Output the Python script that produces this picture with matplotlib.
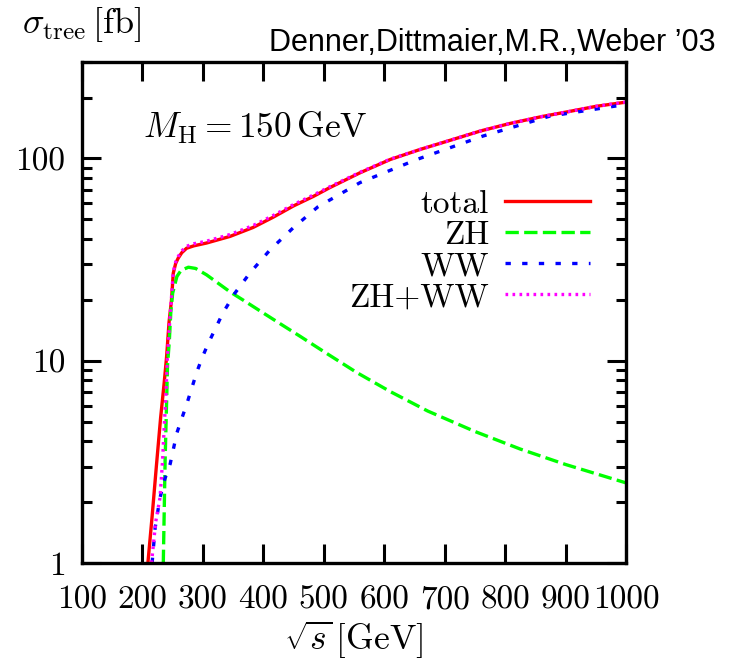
import matplotlib
matplotlib.use("Agg")
import matplotlib.pyplot as plt
from matplotlib.ticker import FixedLocator, FixedFormatter, NullFormatter, LogLocator

plt.rcParams['mathtext.fontset'] = 'cm'

# ---- data ----
total_x = [209, 216, 223, 230, 236, 240, 244, 248, 251, 255, 259, 265, 273, 285, 306, 345,
           383, 416, 450, 483, 510, 560, 610, 660, 709, 760, 808, 860, 907, 950, 1000]
total_y = [1.0, 1.7, 3.0, 5.2, 7.8, 10.5, 15.5, 19.9, 27.1, 30.3, 32.1, 34.2, 36.0, 37.0,
           38.2, 41.2, 45.6, 51.2, 58.3, 65.0, 71.8, 85, 98.9, 111, 123, 137, 149, 161,
           171, 181, 190]

zh_x = [234.5, 237.5, 241.5, 244.5, 247, 250, 257, 264, 276, 288, 306, 325, 345, 366, 395,
        430, 461, 500, 555, 610, 672, 750, 825, 900, 1000]
zh_y = [1.0, 3.2, 9.5, 12.6, 17.5, 21.6, 26.1, 28.0, 29.0, 28.6, 26.6, 24.2, 21.9, 20.0,
        17.6, 15.1, 13.2, 11.1, 8.73, 7.04, 5.64, 4.47, 3.66, 3.07, 2.49]

ww_x = [216, 221, 229, 237, 246, 257, 274, 290, 299, 309, 333, 353, 378, 411, 449, 490,
        560, 654, 763, 874, 1000]
ww_y = [1.0, 1.49, 2.1, 2.6, 3.1, 4.4, 6.2, 8.8, 10.4, 12.2, 17.2, 21.6, 27.2, 35.3, 45.3,
        57.6, 76, 98.9, 129, 162, 185]

sum_x = [215, 222, 229, 233, 236, 239, 241, 244, 248, 251, 255, 259, 265, 273, 285, 306,
         345, 383, 416, 450, 483, 510, 560, 610, 660, 709, 760, 808, 860, 907, 950, 1000]
sum_y = [1.0, 1.6, 2.1, 3.1, 4.7, 6.9, 10, 14, 20.5, 27.5, 30.8, 32.7, 34.9, 36.8, 37.9,
         39.0, 42.1, 46.6, 52.2, 59.2, 66.0, 72.5, 85.5, 99.3, 111, 123, 137, 149, 161,
         171, 181, 190]

series_labels = ['total', 'ZH', 'WW', 'ZH+WW']
series_colors = ['#ff0000', '#00ff00', '#0000ff', '#ff00ff']

x_ticks = [100, 200, 300, 400, 500, 600, 700, 800, 900, 1000]
x_ticklabels = ['100', '200', '300', '400', '500', '600', '700', '800', '900', '1000']
y_ticks = [1, 10, 100]
y_ticklabels = ['1', '10', '100']

# ---- figure ----
W, H = 732, 662
fig = plt.figure(figsize=(W / 100, H / 100), dpi=100)
ax = fig.add_axes([82 / W, (H - 563) / H, (626 - 82) / W, (563 - 62) / H])

lw = 2.4
ax.plot(total_x, total_y, color=series_colors[0], lw=lw, label=series_labels[0])
ax.plot(zh_x, zh_y, color=series_colors[1], lw=lw, ls=(0, (4.0, 1.6)), label=series_labels[1])
ax.plot(ww_x, ww_y, color=series_colors[2], lw=lw, ls=(0, (1.6, 3.4)), label=series_labels[2])
ax.plot(sum_x, sum_y, color=series_colors[3], lw=lw, ls=(0, (0.8, 1.3)), label=series_labels[3])

ax.set_xscale('linear')
ax.set_yscale('log')
ax.set_xlim(100, 1000)
ax.set_ylim(1, 300)

ax.xaxis.set_major_locator(FixedLocator(x_ticks))
ax.xaxis.set_major_formatter(FixedFormatter(x_ticklabels))
ax.yaxis.set_major_locator(FixedLocator(y_ticks))
ax.yaxis.set_major_formatter(FixedFormatter(y_ticklabels))
ax.yaxis.set_minor_locator(LogLocator(base=10, subs=range(2, 10)))
ax.yaxis.set_minor_formatter(NullFormatter())
for lab in ax.get_xticklabels() + ax.get_yticklabels():
    lab.set_fontfamily('cmr10')
    lab.set_fontsize(24)

ax.tick_params(which='both', direction='in', top=True, right=True, width=2.2, color='black')
ax.tick_params(which='major', length=14)
ax.tick_params(which='minor', length=7)
ax.tick_params(axis='x', pad=16)
ax.tick_params(axis='y', pad=12)
for s in ax.spines.values():
    s.set_linewidth(2.4)

ax.set_xlabel(r'$\sqrt{s}\,[{\rm GeV}]$', fontsize=25.5, labelpad=3)
fig.text(22 / W, 1 - 33 / H, r'$\sigma_{\rm tree}\,[{\rm fb}]$', fontsize=26,
         ha='left', va='baseline')
fig.text(716 / W, 1 - 51 / H, 'Denner,Dittmaier,M.R.,Weber \u201903', fontsize=22,
         family='Liberation Sans', ha='right', va='baseline')
ax.text(0.112, 0.848, r'$M_{\rm H} = 150\,{\rm GeV}$', transform=ax.transAxes,
        fontsize=25.5, ha='left', va='baseline')

leg = ax.legend(loc='upper right', bbox_to_anchor=(0.934, 0.745), frameon=False,
                markerfirst=False, prop={'family': 'cmr10', 'size': 24},
                handlelength=2.55, handletextpad=0.48, labelspacing=0.05, borderpad=0,
                borderaxespad=0)

fig.savefig('out.png', dpi=100)
